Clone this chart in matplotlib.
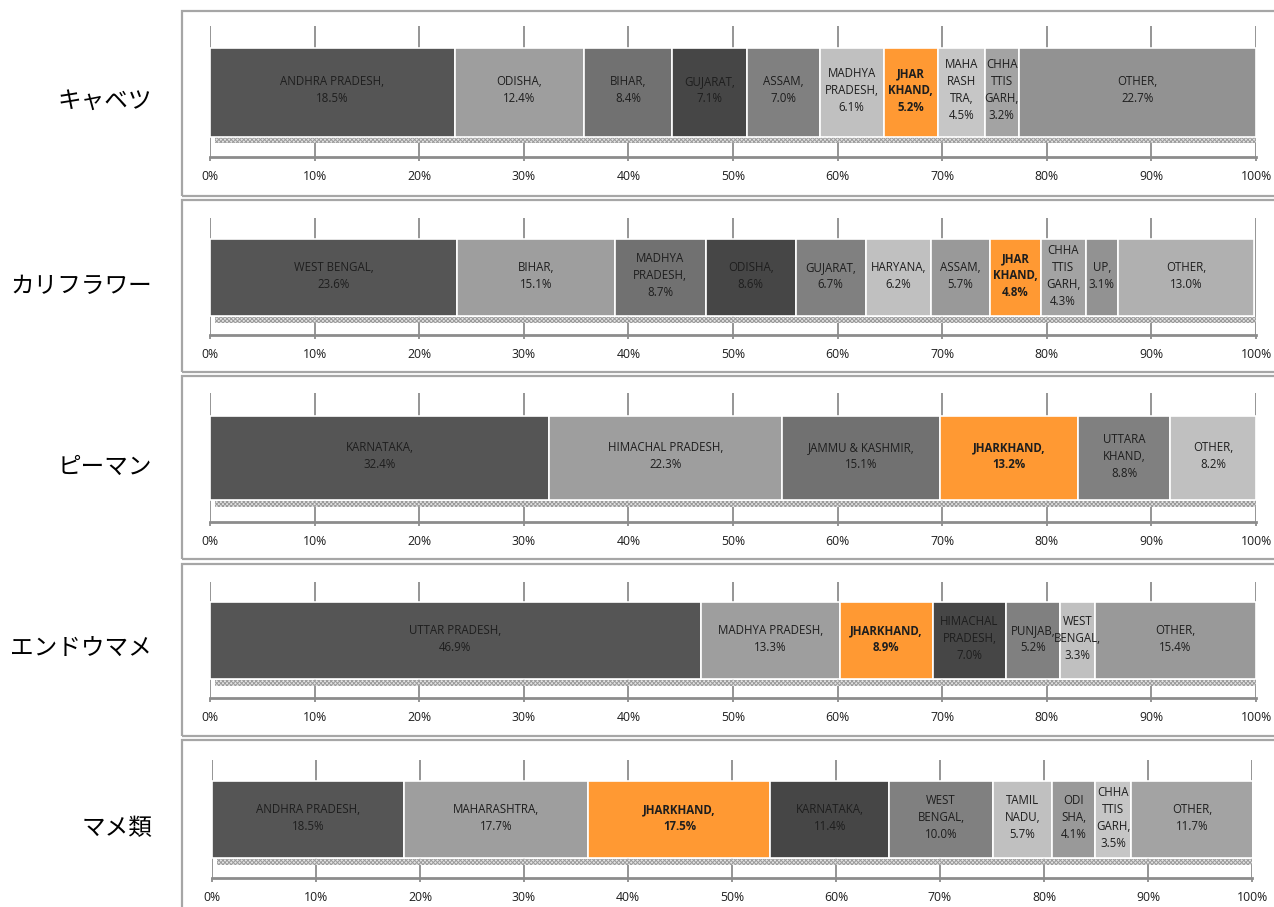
import numpy as np
import matplotlib.pyplot as plt
from matplotlib.patches import Rectangle

plt.rcParams['font.family'] = ['Open Sans', 'DejaVu Sans']
plt.rcParams['hatch.linewidth'] = 0.7

# crop names (left labels)
crops = ['キャベツ', 'カリフラワー', 'ピーマン', 'エンドウマメ', 'マメ類']

# cabbage
cabbage_states = ['ANDHRA PRADESH,', 'ODISHA,', 'BIHAR,', 'GUJARAT,', 'ASSAM,',
                  'MADHYA\nPRADESH,', 'JHAR\nKHAND,', 'MAHA\nRASH\nTRA,',
                  'CHHA\nTTIS\nGARH,', 'OTHER,']
cabbage_share = [23.4, 12.4, 8.4, 7.1, 7.0, 6.1, 5.2, 4.5, 3.2, 22.7]
cabbage_shown = [18.5, 12.4, 8.4, 7.1, 7.0, 6.1, 5.2, 4.5, 3.2, 22.7]

# cauliflower
cauli_states = ['WEST BENGAL,', 'BIHAR,', 'MADHYA\nPRADESH,', 'ODISHA,', 'GUJARAT,',
                'HARYANA,', 'ASSAM,', 'JHAR\nKHAND,', 'CHHA\nTTIS\nGARH,', 'UP,', 'OTHER,']
cauli_share = [23.6, 15.1, 8.7, 8.6, 6.7, 6.2, 5.7, 4.8, 4.3, 3.1, 13.0]

# capsicum
capsicum_states = ['KARNATAKA,', 'HIMACHAL PRADESH,', 'JAMMU & KASHMIR,', 'JHARKHAND,',
                   'UTTARA\nKHAND,', 'OTHER,']
capsicum_share = [32.4, 22.3, 15.1, 13.2, 8.8, 8.2]

# peas
peas_states = ['UTTAR PRADESH,', 'MADHYA PRADESH,', 'JHARKHAND,', 'HIMACHAL\nPRADESH,',
               'PUNJAB,', 'WEST\nBENGAL,', 'OTHER,']
peas_share = [46.9, 13.3, 8.9, 7.0, 5.2, 3.3, 15.4]

# beans
beans_states = ['ANDHRA PRADESH,', 'MAHARASHTRA,', 'JHARKHAND,', 'KARNATAKA,', 'WEST\nBENGAL,',
                'TAMIL\nNADU,', 'ODI\nSHA,', 'CHHA\nTTIS\nGARH,', 'OTHER,']
beans_share = [18.5, 17.7, 17.5, 11.4, 10.0, 5.7, 4.1, 3.5, 11.7]

panels = [
    (cabbage_states, cabbage_share, cabbage_shown),
    (cauli_states, cauli_share, cauli_share),
    (capsicum_states, capsicum_share, capsicum_share),
    (peas_states, peas_share, peas_share),
    (beans_states, beans_share, beans_share),
]

ticks = np.arange(0, 101, 10)
tick_labels = [f'{t}%' for t in ticks]

grays = ['#555555', '#9e9e9e', '#717171', '#464646', '#808080', '#c0c0c0',
         '#999999', '#c6c6c6', '#a3a3a3', '#929292', '#b0b0b0']
orange = '#ff9933'

W, H = 1274, 907
fig = plt.figure(figsize=(W / 100, H / 100), dpi=100)

# pixel layout: frame top, frame bottom, grid top, bar top, bar bottom, axis line, x0, x1
layout = [
    (11, 196, 26, 48, 136.5, 157, 210, 1256),
    (200, 372, 218, 238.5, 316, 335, 210, 1256),
    (376, 559, 393, 416, 500, 522, 210, 1256),
    (564, 736, 582, 602, 679, 698, 210, 1256),
    (740, 920, 760, 781, 858, 878, 212, 1252),
]

for crop, (states, share, shown), lay in zip(crops, panels, layout):
    ft, fb, gt, bt, bb, ay, x0, x1 = lay

    # panel frame
    fig.patches.append(Rectangle((182 / W, 1 - fb / H), (1300 - 182) / W, (fb - ft) / H,
                                 transform=fig.transFigure, fill=False,
                                 ec='#a6a6a6', lw=1.6))

    ax = fig.add_axes([x0 / W, 1 - ay / H, (x1 - x0) / W, (ay - gt) / H])
    bh = bb - bt
    ax.set_ylim(-0.5 - (ay - bb) / bh, 0.5 + (bt - gt) / bh)
    ax.set_xlim(0, 100)

    left = np.concatenate([[0], np.cumsum(share)[:-1]])
    colors = [orange if 'JHAR' in s else grays[i] for i, s in enumerate(states)]

    # 3D floor under the bar
    ax.barh(-0.5 - 3.5 / bh, sum(share), left=0.5, height=6 / bh, color='#e4e4e4',
            edgecolor='#9a9a9a', hatch='xxxxxxxx', lw=0, zorder=1)
    ax.barh(0, share, left=left, height=1, color=colors, edgecolor='white',
            lw=1.2, zorder=2)

    for l, v, s, p in zip(left, share, states, shown):
        bold = 'JHAR' in s
        ax.text(l + v / 2, 0.02, f'{s}\n{p:.1f}%', ha='center', va='center',
                fontsize=8.3, fontweight='bold' if bold else 'normal',
                color='#1e1e1e', linespacing=1.4, zorder=3)

    ax.set_xticks(ticks)
    ax.set_xticklabels(tick_labels)
    ax.set_yticks([])
    ax.grid(axis='x', color='#8c8c8c', lw=1.3, zorder=0)
    ax.set_axisbelow(True)
    for sp in ['top', 'left', 'right']:
        ax.spines[sp].set_visible(False)
    ax.spines['bottom'].set_color('#8c8c8c')
    ax.spines['bottom'].set_linewidth(2)
    ax.tick_params(axis='x', length=3, width=1.3, color='#8c8c8c',
                   labelsize=8.8, labelcolor='#1e1e1e', pad=6.5)

    fig.text(152 / W, 1 - ((bt + bb) / 2 + 9) / H, crop, ha='right', va='center',
             fontsize=17, family=['Noto Sans CJK JP', 'DejaVu Sans'])

fig.savefig('out.png', dpi=100)
